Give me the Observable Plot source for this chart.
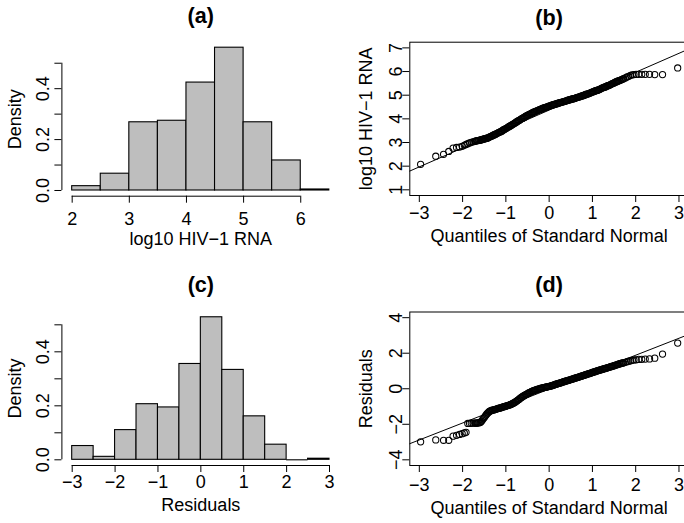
<!DOCTYPE html>
<html><head><meta charset="utf-8">
<script src="https://cdn.jsdelivr.net/npm/d3@7"></script>
<script src="https://cdn.jsdelivr.net/npm/@observablehq/plot@0.6"></script>
<style>
html,body{margin:0;padding:0;background:#fff;overflow:hidden;width:684px;height:523px;}
#fig{position:relative;width:684px;height:523px;overflow:hidden;background:#fff;}
.panel{position:absolute;}
.panel svg{max-width:none !important;display:block;overflow:visible;}
</style></head><body><div id="fig"></div>
<script>
// ---------- data ----------
// (a) histogram of log10 HIV-1 RNA
const aBreaks = [2, 2.5, 3, 3.5, 4, 4.5, 5, 5.5, 6, 6.5];
const aDensity = [0.017, 0.066, 0.268, 0.274, 0.424, 0.561, 0.268, 0.118, 0.004];
const aXTicks = [2, 3, 4, 5, 6];
const aXLabels = ["2", "3", "4", "5", "6"];
const densTicks = [0, 0.1, 0.2, 0.3, 0.4, 0.5];
const densLabels = ["0.0", "", "0.2", "", "0.4", ""];

// (c) histogram of residuals
const cBreaks = [-3, -2.5, -2, -1.5, -1, -0.5, 0, 0.5, 1, 1.5, 2, 2.5, 3];
const cDensity = [0.051, 0.011, 0.110, 0.206, 0.194, 0.355, 0.528, 0.333, 0.161, 0.056, 0, 0.004];
const qXTicks = [-3, -2, -1, 0, 1, 2, 3];
const qXLabels = ["\u22123", "\u22122", "\u22121", "0", "1", "2", "3"];

// theoretical quantiles of the standard normal (shared by (b) and (d))
const normalQuantiles = [
  -2.97, -2.62, -2.44, -2.32, -2.22, -2.14, -2.07, -2.01, -1.96, -1.92,
  -1.88, -1.84, -1.80, -1.76, -1.72,
  -1.70, -1.68, -1.66, -1.64, -1.62, -1.60, -1.58, -1.56, -1.54, -1.52,
  -1.50, -1.48, -1.46, -1.44, -1.42, -1.40, -1.38, -1.36, -1.34, -1.32,
  -1.30, -1.28, -1.26, -1.24, -1.22, -1.20, -1.18, -1.16, -1.14, -1.12,
  -1.10, -1.08, -1.06, -1.04, -1.02, -1.00, -0.98, -0.96, -0.94, -0.92,
  -0.90, -0.88, -0.86, -0.84, -0.82, -0.80, -0.78, -0.76, -0.74, -0.72,
  -0.70, -0.68, -0.66, -0.64, -0.62, -0.60, -0.58, -0.56, -0.54, -0.52,
  -0.50, -0.48, -0.46, -0.44, -0.42, -0.40, -0.38, -0.36, -0.34, -0.32,
  -0.30, -0.28, -0.26, -0.24, -0.22, -0.20, -0.18, -0.16, -0.14, -0.12,
  -0.10, -0.08, -0.06, -0.04, -0.02, 0.00, 0.02, 0.04, 0.06, 0.08,
  0.10, 0.12, 0.14, 0.16, 0.18, 0.20, 0.22, 0.24, 0.26, 0.28,
  0.30, 0.32, 0.34, 0.36, 0.38, 0.40, 0.42, 0.44, 0.46, 0.48,
  0.50, 0.52, 0.54, 0.56, 0.58, 0.60, 0.62, 0.64, 0.66, 0.68,
  0.70, 0.72, 0.74, 0.76, 0.78, 0.80, 0.82, 0.84, 0.86, 0.88,
  0.90, 0.92, 0.94, 0.96, 0.98, 1.00, 1.02, 1.04, 1.06, 1.08,
  1.10, 1.12, 1.14, 1.16, 1.18, 1.20, 1.22, 1.24, 1.26, 1.28,
  1.30, 1.32, 1.34, 1.36, 1.38, 1.40, 1.42, 1.44, 1.46, 1.48,
  1.50, 1.52, 1.54, 1.56, 1.58, 1.60, 1.62, 1.64, 1.66, 1.68,
  1.70,
  1.72, 1.76, 1.80, 1.84, 1.88,
  1.92, 1.96, 2.01, 2.07, 2.14, 2.22, 2.32, 2.44, 2.62, 2.97
];

// (b) sorted log10 HIV-1 RNA
const bSample = [
  2.08, 2.42, 2.50, 2.62, 2.76, 2.79, 2.81, 2.84, 2.88, 2.92,
  2.95, 2.98, 3.01, 3.03, 3.05,
  3.06, 3.07, 3.08, 3.08, 3.09, 3.10, 3.11, 3.12, 3.13, 3.14,
  3.15, 3.16, 3.17, 3.18, 3.19, 3.21, 3.23, 3.25, 3.26, 3.28,
  3.30, 3.32, 3.33, 3.35, 3.37, 3.39, 3.41, 3.43, 3.44, 3.46,
  3.48, 3.50, 3.53, 3.55, 3.57, 3.59, 3.61, 3.63, 3.66, 3.68,
  3.70, 3.72, 3.75, 3.77, 3.79, 3.81, 3.84, 3.86, 3.89, 3.91,
  3.93, 3.95, 3.98, 4.00, 4.02, 4.04, 4.06, 4.08, 4.11, 4.13,
  4.15, 4.17, 4.19, 4.20, 4.22, 4.24, 4.26, 4.28, 4.30, 4.31,
  4.33, 4.34, 4.36, 4.37, 4.39, 4.40, 4.42, 4.43, 4.45, 4.46,
  4.47, 4.48, 4.50, 4.51, 4.53, 4.54, 4.55, 4.56, 4.58, 4.59,
  4.60, 4.61, 4.62, 4.63, 4.64, 4.65, 4.67, 4.68, 4.69, 4.70,
  4.71, 4.72, 4.73, 4.74, 4.75, 4.76, 4.78, 4.79, 4.80, 4.81,
  4.82, 4.83, 4.84, 4.85, 4.86, 4.87, 4.89, 4.90, 4.91, 4.92,
  4.93, 4.94, 4.96, 4.97, 4.98, 4.99, 5.01, 5.02, 5.04, 5.05,
  5.06, 5.07, 5.09, 5.10, 5.12, 5.13, 5.15, 5.16, 5.18, 5.19,
  5.20, 5.21, 5.23, 5.24, 5.26, 5.28, 5.30, 5.31, 5.33, 5.34,
  5.35, 5.37, 5.39, 5.40, 5.42, 5.43, 5.45, 5.47, 5.49, 5.50,
  5.52, 5.54, 5.56, 5.57, 5.59, 5.60, 5.62, 5.63, 5.65, 5.66,
  5.68,
  5.70, 5.73, 5.77, 5.80, 5.84,
  5.86, 5.87, 5.88, 5.88, 5.88, 5.88, 5.88, 5.87, 5.87, 6.15
];
const bLine = {intercept: 4.37, slope: 0.80};
const bYTicks = [1, 2, 3, 4, 5, 6, 7];
const bYLabels = ["1", "2", "3", "4", "5", "6", "7"];

// (d) sorted residuals
const dSample = [
  -2.99, -2.88, -2.90, -2.90, -2.67, -2.62, -2.57, -2.53, -2.49, -2.45,
  -1.95, -1.95, -1.94, -1.94, -1.93,
  -1.93, -1.93, -1.93, -1.92, -1.91, -1.90, -1.87, -1.82, -1.75, -1.68,
  -1.62, -1.55, -1.48, -1.42, -1.37, -1.32, -1.28, -1.25, -1.23, -1.21,
  -1.20, -1.19, -1.17, -1.16, -1.14, -1.13, -1.11, -1.10, -1.08, -1.07,
  -1.06, -1.04, -1.02, -1.01, -0.99, -0.98, -0.96, -0.95, -0.93, -0.92,
  -0.90, -0.88, -0.85, -0.83, -0.80, -0.78, -0.74, -0.71, -0.67, -0.64,
  -0.60, -0.56, -0.52, -0.49, -0.45, -0.42, -0.39, -0.36, -0.33, -0.31,
  -0.28, -0.25, -0.22, -0.20, -0.17, -0.15, -0.13, -0.11, -0.09, -0.08,
  -0.06, -0.04, -0.03, -0.01, 0.00, 0.02, 0.03, 0.04, 0.06, 0.07,
  0.08, 0.09, 0.10, 0.11, 0.12, 0.13, 0.14, 0.16, 0.17, 0.19,
  0.20, 0.22, 0.24, 0.26, 0.27, 0.29, 0.30, 0.32, 0.33, 0.35,
  0.36, 0.38, 0.40, 0.41, 0.43, 0.44, 0.46, 0.47, 0.49, 0.50,
  0.52, 0.53, 0.55, 0.56, 0.58, 0.60, 0.61, 0.63, 0.64, 0.66,
  0.67, 0.69, 0.70, 0.72, 0.74, 0.75, 0.77, 0.79, 0.80, 0.82,
  0.84, 0.85, 0.86, 0.88, 0.90, 0.92, 0.93, 0.95, 0.96, 0.98,
  1.00, 1.01, 1.03, 1.04, 1.06, 1.07, 1.09, 1.10, 1.12, 1.13,
  1.15, 1.16, 1.18, 1.19, 1.21, 1.22, 1.24, 1.25, 1.27, 1.28,
  1.30, 1.32, 1.33, 1.35, 1.36, 1.38, 1.40, 1.41, 1.43, 1.44,
  1.45,
  1.46, 1.49, 1.52, 1.55, 1.57,
  1.60, 1.62, 1.63, 1.65, 1.66, 1.67, 1.68, 1.72, 1.95, 2.57
];
const dLine = {intercept: -0.02, slope: 0.954};
const dYTicks = [-4, -2, 0, 2, 4];
const dYLabels = ["\u22124", "\u22122", "0", "2", "4"];

// ---------- drawing ----------
const FONT = '"Liberation Sans", Arial, Helvetica, sans-serif';
const fig = document.getElementById("fig");
function place(svg, left, top, w) {
  const div = document.createElement("div");
  div.className = "panel";
  div.style.left = left + "px";
  div.style.top = top + "px";
  div.style.width = w + "px";
  div.appendChild(svg);
  fig.appendChild(div);
}
const fmt = (ticks, labels) => { const m = new Map(ticks.map((t, i) => [t, labels[i]])); return d => m.get(d); };

function titles(o) {
  return [
    Plot.text([o.title], {text: d => d, frameAnchor: "top", dy: o.titleDy, lineAnchor: "bottom", fontWeight: "bold", fontSize: 21.6}),
    Plot.text([o.xTitle], {text: d => d, frameAnchor: "bottom", dy: o.xTitleDy, lineAnchor: "bottom", fontSize: 18}),
    Plot.text([o.yTitle], {text: d => d, frameAnchor: "left", dx: o.yTitleDx, rotate: -90, textAnchor: "middle", lineAnchor: "bottom", fontSize: 18})
  ];
}

function histPanel(o) {
  const bins = o.density.map((d, i) => ({x1: o.breaks[i], x2: o.breaks[i + 1], y2: d}));
  return Plot.plot({
    width: o.width, height: o.height,
    marginLeft: o.ml, marginRight: o.mr, marginTop: o.mt, marginBottom: o.mb,
    style: {fontFamily: FONT, fontSize: "18px", background: "white", color: "black"},
    x: {domain: o.xDomain},
    y: {domain: o.yDomain},
    marks: [
      Plot.rect(bins.filter(b => b.y2 > 0), {x1: "x1", x2: "x2", y1: 0, y2: "y2", fill: "#bebebe", stroke: "black", strokeWidth: 1.1, inset: 0}),
      Plot.ruleY(bins.filter(b => b.y2 === 0), {y: 0, x1: "x1", x2: "x2", stroke: "black", strokeWidth: 1.1}),
      Plot.ruleY([o.yDomain[0]], {x1: o.xTicks[0], x2: o.xTicks[o.xTicks.length - 1], stroke: "black"}),
      Plot.ruleX([o.xDomain[0]], {y1: o.yTicks[0], y2: o.yTicks[o.yTicks.length - 1], stroke: "black"}),
      Plot.axisX({ticks: o.xTicks, tickSize: 7, tickPadding: o.xTickPad, tickFormat: fmt(o.xTicks, o.xLabels), fontSize: 18, label: null}),
      Plot.axisY({ticks: o.yTicks, tickSize: 7, tickPadding: o.yTickPad, tickRotate: -90, tickFormat: fmt(o.yTicks, o.yLabels), fontSize: 18, label: null}),
      ...titles(o)
    ]
  });
}

function qqPanel(o) {
  const pts = o.theo.map((x, i) => ({x, y: o.sample[i]}));
  const ends = o.xDomain.map(x => ({x, y: o.line.intercept + o.line.slope * x}));
  return Plot.plot({
    width: o.width, height: o.height,
    marginLeft: o.ml, marginRight: o.mr, marginTop: o.mt, marginBottom: o.mb,
    style: {fontFamily: FONT, fontSize: "18px", background: "white", color: "black"},
    x: {domain: o.xDomain},
    y: {domain: o.yDomain},
    marks: [
      Plot.frame({stroke: "black", strokeWidth: 1}),
      Plot.line(ends, {x: "x", y: "y", stroke: "black", strokeWidth: 1}),
      Plot.dot(pts, {x: "x", y: "y", r: 3.1, stroke: "black", fill: "none", strokeWidth: 1.05}),
      Plot.axisX({ticks: o.xTicks, tickSize: 7, tickPadding: o.xTickPad, tickFormat: fmt(o.xTicks, o.xLabels), fontSize: 18, label: null}),
      Plot.axisY({ticks: o.yTicks, tickSize: 7, tickPadding: o.yTickPad, tickRotate: -90, tickFormat: fmt(o.yTicks, o.yLabels), fontSize: 18, label: null}),
      ...titles(o)
    ]
  });
}

place(histPanel({
  breaks: aBreaks, density: aDensity, xDomain: [1.82, 6.68], yDomain: [-0.0224, 0.583],
  xTicks: aXTicks, xLabels: aXLabels, yTicks: densTicks, yLabels: densLabels,
  width: 342, height: 262, ml: 61.4, mr: 2.9, mt: 41.6, mb: 66.3,
  xTickPad: 9.5, yTickPad: 6.1,
  title: "(a)", titleDy: -18.6, xTitle: "log10 HIV\u22121 RNA", xTitleDy: 49, yTitle: "Density", yTitleDx: -41
}), 0, 0, 342);

place(histPanel({
  breaks: cBreaks, density: cDensity, xDomain: [-3.24, 3.24], yDomain: [-0.0211, 0.549],
  xTicks: qXTicks, xLabels: qXLabels, yTicks: densTicks, yLabels: densLabels,
  width: 342, height: 261, ml: 61.4, mr: 2.7, mt: 49.1, mb: 58,
  xTickPad: 3, yTickPad: 6.1,
  title: "(c)", titleDy: -20.1, xTitle: "Residuals", xTitleDy: 45.3, yTitle: "Density", yTitleDx: -41
}), 0, 262, 342);

place(qqPanel({
  theo: normalQuantiles, sample: bSample, line: bLine, xDomain: [-3.22, 3.22], yDomain: [0.76, 7.24],
  xTicks: qXTicks, xLabels: qXLabels, yTicks: bYTicks, yLabels: bYLabels,
  width: 346, height: 262, ml: 67.3, mr: 0, mt: 41.7, mb: 67,
  xTickPad: 3.8, yTickPad: 1,
  title: "(b)", titleDy: -17.7, xTitle: "Quantiles of Standard Normal", xTitleDy: 46.5, yTitle: "log10 HIV\u22121 RNA", yTitleDx: -38
}), 342, 0, 346);

place(qqPanel({
  theo: normalQuantiles, sample: dSample, line: dLine, xDomain: [-3.22, 3.22], yDomain: [-4.32, 4.32],
  xTicks: qXTicks, xLabels: qXLabels, yTicks: dYTicks, yLabels: dYLabels,
  width: 346, height: 261, ml: 67.3, mr: 0, mt: 49.5, mb: 58,
  xTickPad: 5.5, yTickPad: 1,
  title: "(d)", titleDy: -20.5, xTitle: "Quantiles of Standard Normal", xTitleDy: 48.3, yTitle: "Residuals", yTitleDx: -38
}), 342, 262, 346);
</script></body></html>
